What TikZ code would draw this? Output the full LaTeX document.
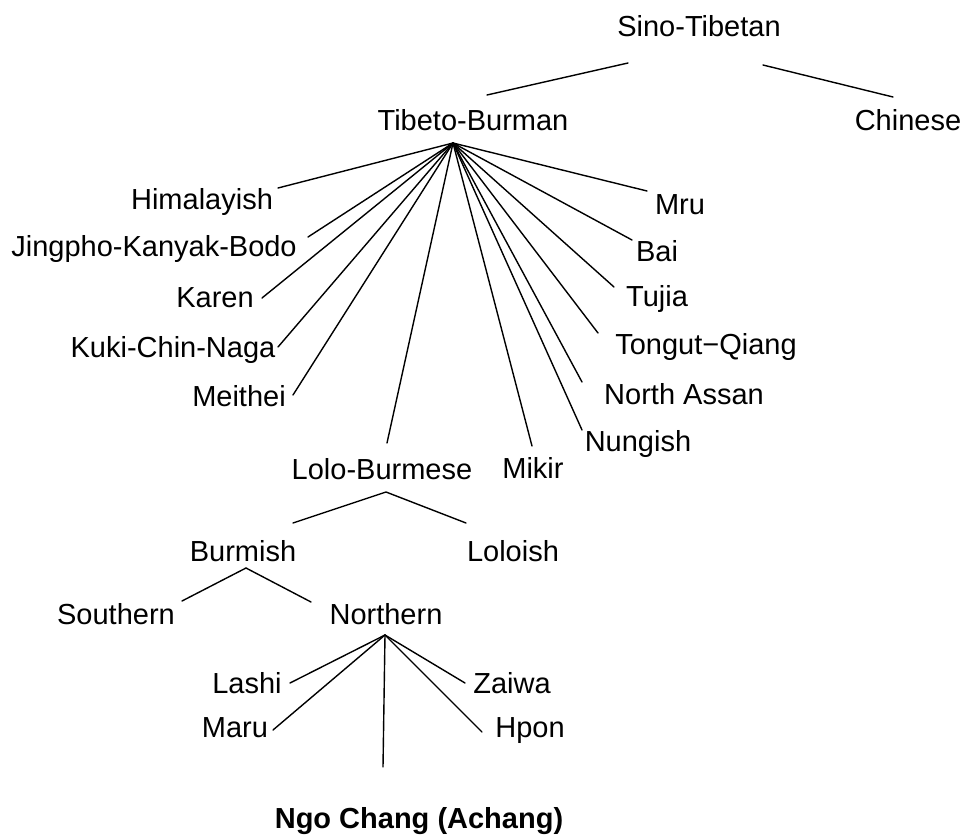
\documentclass[tikz,border=0pt]{standalone}
\usepackage{fontspec}
\setmainfont{Liberation Sans}
\begin{document}
\begin{tikzpicture}[x=1pt,y=-1pt,
  lab/.style={anchor=base,inner sep=0pt,font=\fontsize{29}{34}\selectfont},
  boldlab/.style={lab,font=\fontsize{29}{34}\selectfont\bfseries},
  branch/.style={line width=1.4pt,line cap=round}]
\useasboundingbox (0,0) rectangle (962,838);
\fill[white] (0,0) rectangle (962,838);
% labels
\node[lab] (sino) at (699,36) {Sino-Tibetan};
\node[lab] (tb) at (473,130) {Tibeto-Burman};
\node[lab] (chin) at (908,130) {Chinese};
\node[lab] (him) at (202,209) {Himalayish};
\node[lab] (jing) at (154,256) {Jingpho-Kanyak-Bodo};
\node[lab] (karen) at (215,307) {Karen};
\node[lab] (kuki) at (173,357) {Kuki-Chin-Naga};
\node[lab] (meit) at (239,406) {Meithei};
\node[lab] (lolo) at (382,479) {Lolo-Burmese};
\node[lab] (mikir) at (533,478) {Mikir};
\node[lab] (mru) at (680,214) {Mru};
\node[lab] (bai) at (657,261) {Bai};
\node[lab] (tujia) at (657,306) {Tujia};
\node[lab] (tong) at (706,354) {Tongut−Qiang};
\node[lab] (nass) at (684,404) {North Assan};
\node[lab] (nung) at (638,451) {Nungish};
\node[lab] (burm) at (243,561) {Burmish};
\node[lab] (lolo2) at (513,561) {Loloish};
\node[lab] (south) at (116,624) {Southern};
\node[lab] (north) at (386,624) {Northern};
\node[lab] (lashi) at (247,693) {Lashi};
\node[lab] (zaiwa) at (512,693) {Zaiwa};
\node[lab] (maru) at (235,737) {Maru};
\node[lab] (hpon) at (530,737) {Hpon};
\node[boldlab] (ngo) at (419,828) {Ngo Chang (Achang)};
% branch points and line ends
\coordinate (sinoL) at (628,63);
\coordinate (sinoR) at (763,65);
\coordinate (tbTop) at (487,95);
\coordinate (chinTop) at (893,97);
\coordinate (tbHub) at (453,143);
\coordinate (eHim) at (278,188);
\coordinate (eJing) at (308,237);
\coordinate (eKaren) at (262,298);
\coordinate (eKuki) at (278,347);
\coordinate (eMeit) at (293,395);
\coordinate (eLolo) at (387,443);
\coordinate (eMikir) at (532,446);
\coordinate (eNung) at (582,430);
\coordinate (eNass) at (582,382);
\coordinate (eTong) at (598,333);
\coordinate (eTujia) at (614,287);
\coordinate (eBai) at (632,240);
\coordinate (eMru) at (647,191);
\coordinate (loloHub) at (386,492);
\coordinate (eBurm) at (293,523);
\coordinate (eLolo2) at (466,523);
\coordinate (burmHub) at (246,568);
\coordinate (eSouth) at (182,601);
\coordinate (eNorth) at (311,602);
\coordinate (northHub) at (385,635);
\coordinate (eLashi) at (290,683);
\coordinate (eMaru) at (273,730);
\coordinate (eNgo) at (383,767);
\coordinate (eZaiwa) at (465,683);
\coordinate (eHpon) at (482,732);
% connectors
\draw[branch] (sinoL) -- (tbTop);
\draw[branch] (sinoR) -- (chinTop);
\foreach \e in {eHim,eJing,eKaren,eKuki,eMeit,eLolo,eMikir,eNung,eNass,eTong,eTujia,eBai,eMru}
  \draw[branch] (tbHub) -- (\e);
\draw[branch] (eBurm) -- (loloHub) -- (eLolo2);
\draw[branch] (eSouth) -- (burmHub) -- (eNorth);
\foreach \e in {eLashi,eMaru,eNgo,eZaiwa,eHpon}
  \draw[branch] (northHub) -- (\e);
\end{tikzpicture}
\end{document}
